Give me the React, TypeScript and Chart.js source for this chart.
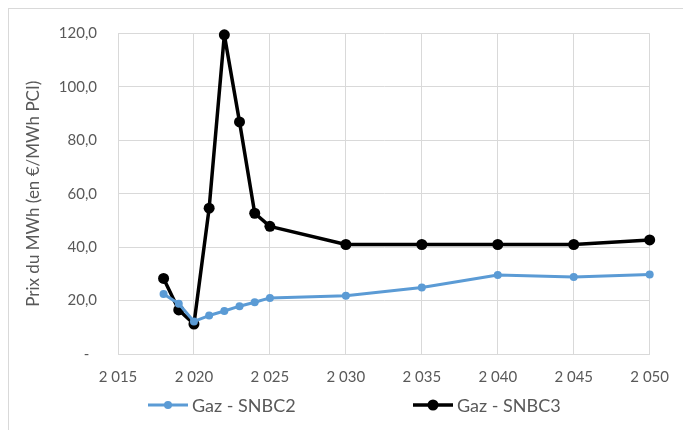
import React, { useEffect, useRef } from 'react';
import { Chart, registerables } from 'chart.js';

Chart.register(...registerables);

const years = [2018, 2019, 2020, 2021, 2022, 2023, 2024, 2025, 2030, 2035, 2040, 2045, 2050];
const snbc2 = [22.5, 18.8, 12.2, 14.4, 16.1, 17.9, 19.4, 21.0, 21.8, 24.9, 29.6, 28.8, 29.8];
const snbc3 = [28.3, 16.5, 11.2, 54.6, 119.5, 86.9, 52.7, 47.8, 41.0, 41.0, 41.0, 41.0, 42.7];
const seriesLabels = ['Gaz - SNBC2', 'Gaz - SNBC3'];
const seriesColors = ['#5B9BD5', '#000000'];
const yAxisTitle = 'Prix du MWh (en €/MWh PCI)';

const FONT = 'Lato, "Open Sans", sans-serif';
const TEXT = '#595959';
const GRID = '#d9d9d9';

export default function App() {
  const ref = useRef<HTMLCanvasElement | null>(null);

  useEffect(() => {
    if (!ref.current) return;
    const legendPlugin = {
      id: 'customLegend',
      afterDraw(chart: any) {
        const ctx = chart.ctx as CanvasRenderingContext2D;
        const starts = [148, 413];
        const y = 405;
        chart.data.datasets.forEach((ds: any, i: number) => {
          const x = starts[i];
          ctx.save();
          ctx.strokeStyle = ds.borderColor;
          ctx.lineWidth = ds.borderWidth;
          ctx.beginPath();
          ctx.moveTo(x, y);
          ctx.lineTo(x + 40, y);
          ctx.stroke();
          ctx.fillStyle = ds.pointBackgroundColor;
          ctx.beginPath();
          ctx.arc(x + 20, y, ds.pointRadius, 0, Math.PI * 2);
          ctx.fill();
          ctx.font = '18px ' + FONT;
          ctx.fillStyle = TEXT;
          ctx.textBaseline = 'middle';
          ctx.textAlign = 'left';
          ctx.fillText(ds.label, x + 44, y + 1);
          ctx.restore();
        });
      },
    };

    const toPoints = (vals: number[]) => years.map((yr, i) => ({ x: yr, y: vals[i] }));

    const chart = new Chart(ref.current, {
      type: 'line',
      data: {
        datasets: [
          {
            label: seriesLabels[0],
            data: toPoints(snbc2),
            borderColor: seriesColors[0],
            backgroundColor: seriesColors[0],
            pointBackgroundColor: seriesColors[0],
            pointBorderColor: seriesColors[0],
            borderWidth: 3,
            borderJoinStyle: 'round',
            borderCapStyle: 'round',
            pointRadius: 4,
            pointBorderWidth: 0,
            tension: 0,
            clip: false,
          },
          {
            label: seriesLabels[1],
            data: toPoints(snbc3),
            borderColor: seriesColors[1],
            backgroundColor: seriesColors[1],
            pointBackgroundColor: seriesColors[1],
            pointBorderColor: seriesColors[1],
            borderWidth: 3.5,
            borderJoinStyle: 'round',
            borderCapStyle: 'round',
            pointRadius: 5.5,
            pointBorderWidth: 0,
            tension: 0,
            clip: false,
          },
        ],
      },
      options: {
        animation: false,
        responsive: false,
        devicePixelRatio: 1,
        layout: { padding: { left: 0, right: 29.5, top: 33.5, bottom: 0 } },
        plugins: {
          legend: { display: false },
          tooltip: { enabled: false },
        },
        scales: {
          x: {
            type: 'linear',
            min: 2015,
            max: 2050,
            afterFit: (s: any) => {
              s.height = 76;
            },
            ticks: {
              stepSize: 5,
              color: TEXT,
              font: { family: FONT, size: 15 },
              padding: 14,
              maxRotation: 0,
              callback: (v: any) => String(v).replace(/\B(?=(\d{3})+$)/g, '\u00a0'),
            },
            grid: { color: GRID, lineWidth: 1, drawTicks: false },
            border: { color: GRID },
          },
          y: {
            min: 0,
            max: 120,
            afterFit: (s: any) => {
              s.width = 118;
            },
            ticks: {
              stepSize: 20,
              color: TEXT,
              font: { family: FONT, size: 15 },
              padding: 21,
              callback: (v: any) => (Number(v) === 0 ? '-  ' : Number(v).toFixed(1).replace('.', ',')),
            },
            grid: { color: GRID, lineWidth: 1, drawTicks: false },
            border: { color: GRID },
            title: {
              display: true,
              text: yAxisTitle,
              color: TEXT,
              font: { family: FONT, size: 17 },
              padding: { top: 23, bottom: 0 },
            },
          },
        },
      },
      plugins: [legendPlugin],
    });
    return () => chart.destroy();
  }, []);

  return (
    <div style={{ position: 'fixed', left: 0, top: 0, width: 683, height: 430, background: '#fff', overflow: 'hidden' }}>
      <div
        style={{
          position: 'absolute',
          left: 8,
          top: 8,
          width: 700,
          height: 450,
          borderLeft: '1px solid #d9d9d9',
          borderTop: '1px solid #d9d9d9',
        }}
      />
      <canvas ref={ref} width={683} height={430} style={{ position: 'absolute', left: 0, top: 0 }} />
    </div>
  );
}
